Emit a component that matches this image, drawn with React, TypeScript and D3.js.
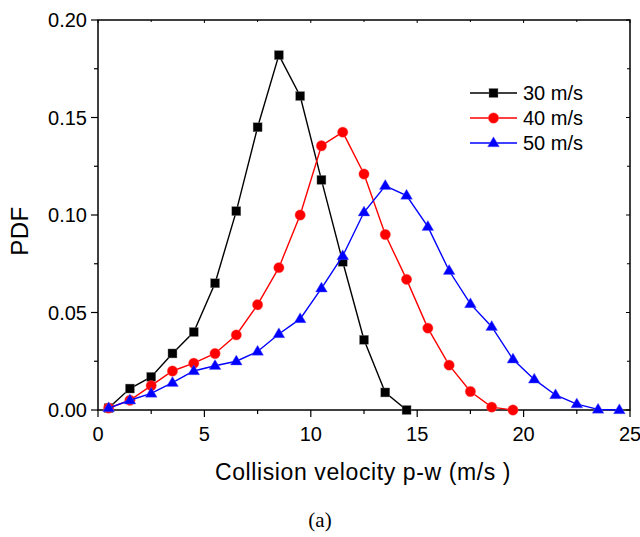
import React from "react";
import * as d3 from "d3";

const xs30 = [0.5, 1.5, 2.5, 3.5, 4.5, 5.5, 6.5, 7.5, 8.5, 9.5, 10.5, 11.5, 12.5, 13.5, 14.5];
const pdf30 = [0.001, 0.011, 0.017, 0.029, 0.040, 0.065, 0.102, 0.145, 0.182, 0.161, 0.118, 0.076, 0.036, 0.009, 0.0];

const xs40 = [0.5, 1.5, 2.5, 3.5, 4.5, 5.5, 6.5, 7.5, 8.5, 9.5, 10.5, 11.5, 12.5, 13.5, 14.5, 15.5, 16.5, 17.5, 18.5, 19.5];
const pdf40 = [0.001, 0.005, 0.0125, 0.020, 0.024, 0.029, 0.0385, 0.054, 0.073, 0.100, 0.1355, 0.1425, 0.121, 0.090, 0.067, 0.042, 0.023, 0.0095, 0.0015, 0.0];

const xs50 = [0.5, 1.5, 2.5, 3.5, 4.5, 5.5, 6.5, 7.5, 8.5, 9.5, 10.5, 11.5, 12.5, 13.5, 14.5, 15.5, 16.5, 17.5, 18.5, 19.5, 20.5, 21.5, 22.5, 23.5, 24.5];
const pdf50 = [0.001, 0.005, 0.0085, 0.014, 0.020, 0.0227, 0.025, 0.030, 0.039, 0.0467, 0.0624, 0.079, 0.1014, 0.115, 0.110, 0.094, 0.0714, 0.0544, 0.0427, 0.026, 0.0157, 0.0077, 0.003, 0.0003, 0.0];

const seriesNames = ["30 m/s", "40 m/s", "50 m/s"];
const seriesColors = ["#000000", "#ff0000", "#0000ff"];
const xTicks = [0, 5, 10, 15, 20, 25];
const yTicks = [0, 0.05, 0.1, 0.15, 0.2];

const font = "Liberation Sans";
const serif = "Liberation Serif";

function Marker({ kind, x, y, color }: { kind: number; x: number; y: number; color: string }) {
  if (kind === 0) {
    return <rect x={x - 4.5} y={y - 4.5} width={9} height={9} fill={color} stroke="#888" strokeWidth={0.4} />;
  }
  if (kind === 1) {
    return <circle cx={x} cy={y} r={5.2} fill={color} stroke="#ff6666" strokeWidth={0.4} />;
  }
  const s = 6.2;
  return (
    <path
      d={`M${x},${y - s} L${x + s * 0.95},${y + s * 0.6} L${x - s * 0.95},${y + s * 0.6} Z`}
      fill={color}
      stroke="#6666ff"
      strokeWidth={0.4}
    />
  );
}

export default function App() {
  const W = 640, H = 537;
  const left = 98, right = 630, top = 20, bottom = 410;
  const x = d3.scaleLinear().domain([0, 25]).range([left, right]);
  const y = d3.scaleLinear().domain([0, 0.2]).range([bottom, top]);
  const line = d3.line<[number, number]>().x((d) => x(d[0])).y((d) => y(d[1]));

  const series = [
    xs30.map((v, i) => [v, pdf30[i]] as [number, number]),
    xs40.map((v, i) => [v, pdf40[i]] as [number, number]),
    xs50.map((v, i) => [v, pdf50[i]] as [number, number]),
  ];

  const xMinor = d3.range(0, 25.01, 2.5);
  const yMinor = d3.range(0, 0.2001, 0.025);

  return (
    <svg width={W} height={H} style={{ position: "absolute", left: 0, top: 0, background: "#fff" }}>
      <rect x={0} y={0} width={W} height={H} fill="#fff" />
      <rect x={left} y={top} width={right - left} height={bottom - top} fill="none" stroke="#000" strokeWidth={1.5} />
      {xMinor.map((t, i) => {
        const major = Math.abs(t % 5) < 1e-6;
        return (
          <g key={"xb" + i}>
            <line x1={x(t)} x2={x(t)} y1={bottom} y2={bottom + (major ? 7 : 4)} stroke="#000" strokeWidth={1.2} />
            <line x1={x(t)} x2={x(t)} y1={top} y2={top + (major ? 3 : 2)} stroke="#000" strokeWidth={1} />
          </g>
        );
      })}
      {yMinor.map((t, i) => {
        const major = Math.abs((t / 0.05) - Math.round(t / 0.05)) < 1e-6;
        return (
          <g key={"yl" + i}>
            <line x1={left - (major ? 7 : 4)} x2={left} y1={y(t)} y2={y(t)} stroke="#000" strokeWidth={1.2} />
            <line x1={right - (major ? 4 : 3)} x2={right} y1={y(t)} y2={y(t)} stroke="#000" strokeWidth={1} />
          </g>
        );
      })}
      {xTicks.map((t) => (
        <text key={"xt" + t} x={x(t)} y={441} textAnchor="middle" style={{ fontFamily: font, fontSize: 20 }} fill="#000">
          {t}
        </text>
      ))}
      {yTicks.map((t) => (
        <text key={"yt" + t} x={87} y={y(t) + 7} textAnchor="end" style={{ fontFamily: font, fontSize: 20 }} fill="#000">
          {t.toFixed(2)}
        </text>
      ))}
      <text x={x(12.5) - 1} y={480} textAnchor="middle" style={{ fontFamily: font, fontSize: 23, letterSpacing: 0.6 }} fill="#000">
        Collision velocity p-w (m/s )
      </text>
      <text
        transform={`translate(28, 231) rotate(-90)`}
        textAnchor="middle"
        style={{ fontFamily: font, fontSize: 24, letterSpacing: 0.5 }}
        fill="#000"
      >
        PDF
      </text>
      <text x={320} y={527} textAnchor="middle" style={{ fontFamily: serif, fontSize: 21 }} fill="#000">
        (a)
      </text>
      {series.map((s, si) => (
        <g key={"s" + si}>
          <path d={line(s) || ""} fill="none" stroke={seriesColors[si]} strokeWidth={1.4} />
          {s.map((d, i) => (
            <Marker key={i} kind={si} x={x(d[0])} y={y(d[1])} color={seriesColors[si]} />
          ))}
        </g>
      ))}
      {seriesNames.map((n, i) => {
        const ly = 93 + i * 25;
        return (
          <g key={"lg" + i}>
            <line x1={470} x2={517} y1={ly} y2={ly} stroke={seriesColors[i]} strokeWidth={1.4} />
            <Marker kind={i} x={493.5} y={ly} color={seriesColors[i]} />
            <text x={523} y={ly + 7} style={{ fontFamily: font, fontSize: 20 }} fill="#000">
              {n}
            </text>
          </g>
        );
      })}
    </svg>
  );
}
